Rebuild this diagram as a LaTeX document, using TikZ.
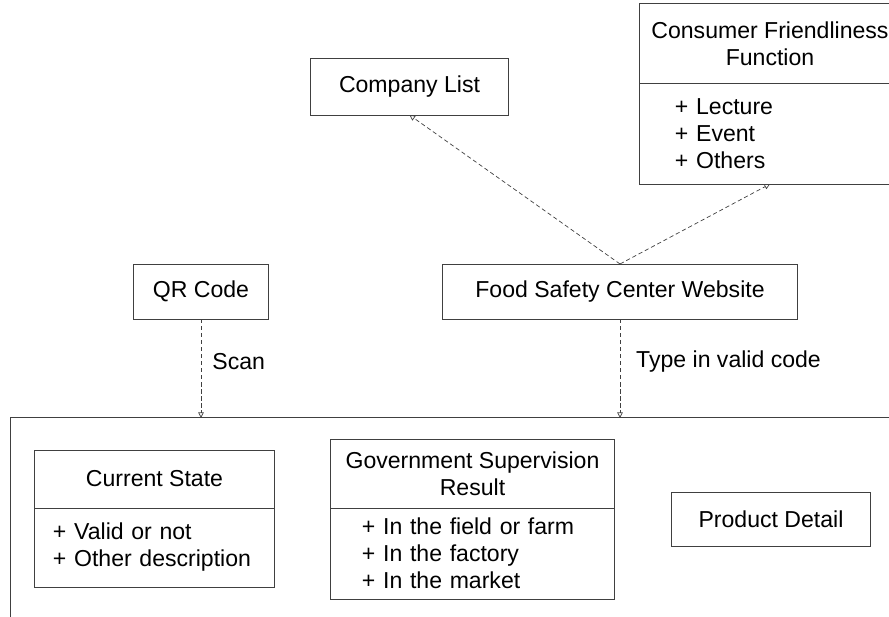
\documentclass[tikz,border=0pt]{standalone}
\usepackage{fontspec}
\setmainfont{Liberation Sans}
\usetikzlibrary{positioning, arrows.meta}

\begin{document}
\begin{tikzpicture}
		[   x=0.025cm, y=-0.025cm,
		    font=\fontsize{16.4}{19.2}\selectfont,
		    box/.style={draw=black!75,line width=0.7pt,fill=white,outer sep=0pt,inner sep=0pt,minimum width=#1,align=center},
		    items/.style={draw=black!75,line width=0.7pt,fill=white,outer sep=0pt,inner ysep=0pt,align=left},
		]
		\tikzset{dash arrow/.style={draw=black!75,line width=0.5pt,dash pattern=on 3pt off 2pt,-{Triangle[open,length=4pt,width=4pt]}}}
		\useasboundingbox (0,0) rectangle (889,617);
		\clip (0,0) rectangle (889,617);
		
		\node[box=23.225cm,minimum height=6.05cm] (panel) at (475.5,539) {};
		
		\node[box=4.925cm,minimum height=1.4cm] (list) at (409.5,87) {Company List};
		
		\node[box=6.5cm,minimum height=1.975cm] (cf-1) at (770,43.5) {Consumer Friendliness\\Function};
		\node[items,minimum height=2.525cm,text width=4.75cm,inner xsep=0.875cm,below=0pt of cf-1] (cf-2) {+ Lecture\\+ Event\\+ Others};
		
		\node[box=3.35cm,minimum height=1.375cm] (qr) at (201,291.5) {QR Code};
		\node[box=8.85cm,minimum height=1.375cm] (web) at (620,291.5) {Food Safety Center Website};
		
		\node[box=5.975cm,minimum height=1.45cm] (cs-1) at (154.5,479) {Current State};
		\node[items,minimum height=1.975cm,text width=5.075cm,inner xsep=0.45cm,below=0pt of cs-1] (cs-2) {+ Valid or not\\+ Other description};
		
		\node[box=7.075cm,minimum height=1.725cm] (gs-1) at (472.5,473.5) {Government Supervision\\Result};
		\node[items,minimum height=2.275cm,text width=5.525cm,inner xsep=0.775cm,below=0pt of gs-1] (gs-2) {+ In the field or farm\\+ In the factory\\+ In the market};
		
		\node[box=4.95cm,minimum height=1.35cm] (pd) at (771,519) {Product Detail};
		
		
		\path[dash arrow] (web.north) -- (list.south);
		\path[dash arrow] (web.north) -- (cf-2.south);
		
		\path[dash arrow] (qr.south) -- node[right=0.16cm,pos=0.43] {Scan} (qr.south |- panel.north);
		\path[dash arrow] (web.south) -- node[right=0.28cm,pos=0.43] {Type in valid code} (web.south |- panel.north);
		
\end{tikzpicture}
\end{document}
